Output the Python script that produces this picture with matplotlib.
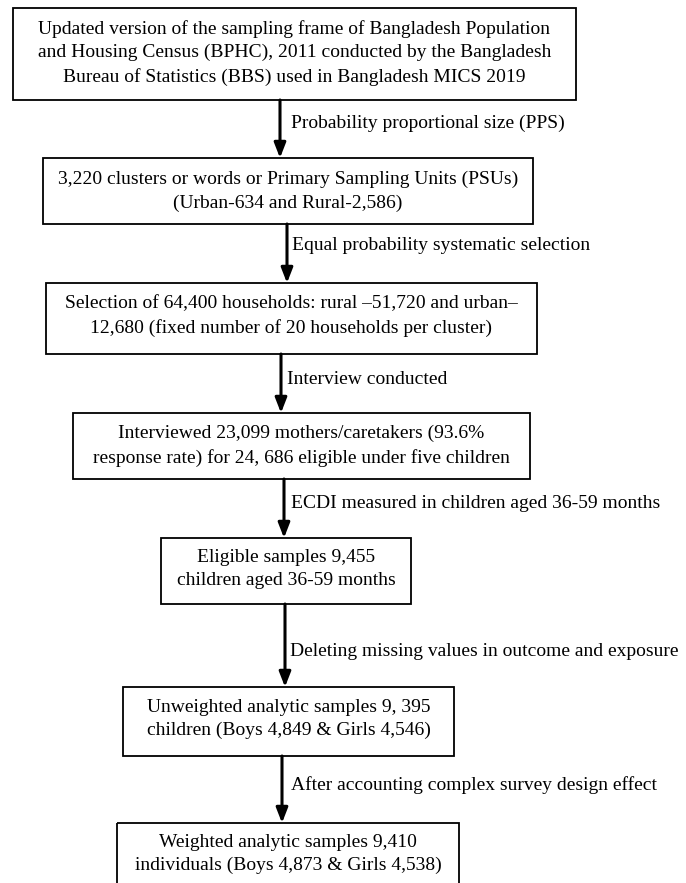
import matplotlib.pyplot as plt
from matplotlib.patches import Rectangle

# Texto de cada caja del diagrama
cajas = [
    "Updated version of the sampling frame of Bangladesh Population\n"
    "and Housing Census (BPHC), 2011 conducted by the Bangladesh\n"
    "Bureau of Statistics (BBS) used in Bangladesh MICS 2019",
    "3,220 clusters or words or Primary Sampling Units (PSUs)\n"
    "(Urban-634 and Rural-2,586)",
    "Selection of 64,400 households: rural \u201351,720 and urban\u2013\n"
    "12,680 (fixed number of 20 households per cluster)",
    "Interviewed 23,099 mothers/caretakers (93.6%\n"
    "response rate) for 24, 686 eligible under five children",
    "Eligible samples 9,455\nchildren aged 36-59 months",
    "Unweighted analytic samples 9, 395\nchildren (Boys 4,849 & Girls 4,546)",
    "Weighted analytic samples 9,410\nindividuals (Boys 4,873 & Girls 4,538)",
]

# Etiquetas de las flechas
etiquetas = [
    "Probability proportional size (PPS)",
    "Equal probability systematic selection",
    "Interview conducted",
    "ECDI measured in children aged 36-59 months",
    "Deleting missing values in outcome and exposure",
    "After accounting complex survey design effect",
]

# Layout en pixeles: (izq, der, arriba, abajo)
geom = [
    (13, 576, 8, 100),
    (43, 533, 158, 224),
    (46, 537, 283, 354),
    (73, 530, 413, 479),
    (161, 411, 538, 604),
    (123, 454, 687, 756),
    (117, 459, 823, 895),
]
centro_texto = [53, 191, 316, 446, 569, 719, 854]
flecha_x = [280, 287, 281, 284, 285, 282]
etiqueta_y = [123, 246, 379, 503, 652, 785]
etiqueta_x = [291, 292, 287, 291, 290, 291]

plt.rcParams['font.family'] = ['Liberation Serif', 'DejaVu Serif']

fig = plt.figure(figsize=(6.86, 8.83), dpi=100)
ax = fig.add_axes([0, 0, 1, 1])
ax.set_xlim(0, 686)
ax.set_ylim(883, 0)
ax.axis('off')

for i, texto in enumerate(cajas):
    x0, x1, y0, y1 = geom[i]
    ax.add_patch(Rectangle((x0, y0), x1 - x0, y1 - y0, fill=False,
                           edgecolor='black', linewidth=1.3))
    ax.text((x0 + x1) / 2, centro_texto[i], texto, ha='center', va='center',
            fontsize=14, linespacing=1.5, color='black')

for i, etiqueta in enumerate(etiquetas):
    y_ini = geom[i][3]
    y_fin = geom[i + 1][2]
    ax.annotate('', xy=(flecha_x[i], y_fin), xytext=(flecha_x[i], y_ini),
                arrowprops=dict(arrowstyle='-|>,head_length=0.9,head_width=0.35',
                                color='black', lw=2.2, shrinkA=0, shrinkB=0))
    ax.text(etiqueta_x[i], etiqueta_y[i], etiqueta, ha='left', va='center',
            fontsize=14, color='black')

plt.savefig('out.png', dpi=100)
